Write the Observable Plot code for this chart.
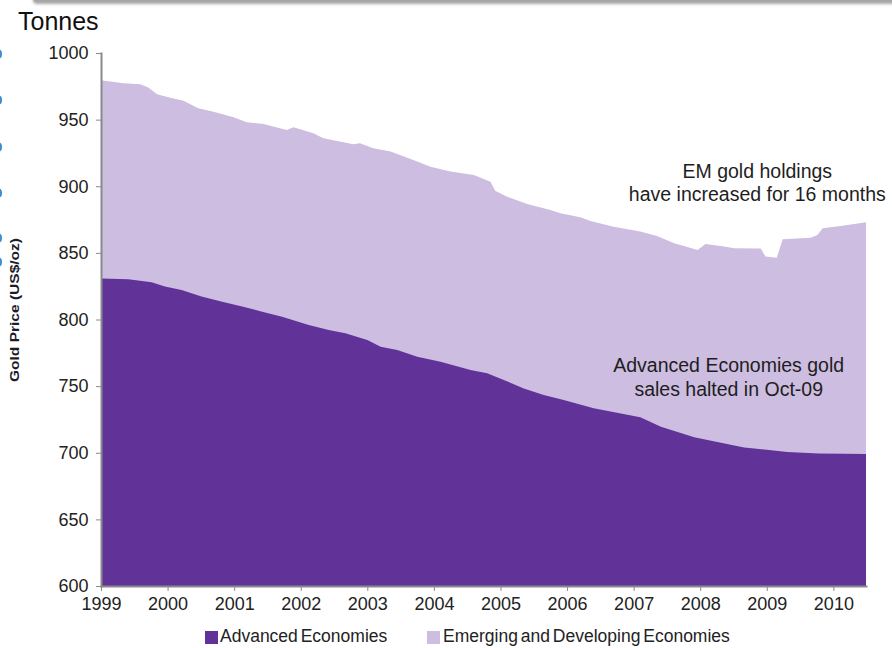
<!DOCTYPE html>
<html>
<head>
<meta charset="utf-8">
<script src="https://cdn.jsdelivr.net/npm/d3@7"></script>
<script src="https://cdn.jsdelivr.net/npm/@observablehq/plot@0.6"></script>
<style>
  html, body { margin: 0; padding: 0; background: #fff; }
  #wrap { position: relative; width: 892px; height: 648px; overflow: hidden; font-family: "Liberation Sans", Arial, sans-serif; }
  #chart { position: absolute; left: 0; top: 0; }
  .topbar { position: absolute; left: 33px; top: -6px; width: 880px; height: 8px; background: #a6a6a6; border-radius: 4px; box-shadow: 0 2px 3px rgba(0,0,0,0.35); }
  .unit { position: absolute; left: 18px; top: 9px; font-size: 25px; line-height: 1; color: #111; }
  .legend { position: absolute; top: 628px; font-size: 17.5px; line-height: 1; color: #222; word-spacing: -2px; white-space: nowrap; }
  .swatch { position: absolute; top: 631px; width: 13px; height: 13px; }
  #deco { position: absolute; left: 0; top: 0; }
</style>
</head>
<body>
<div id="wrap">
  <div id="chart"></div>
  <svg id="deco" width="892" height="648"></svg>
  <div class="topbar"></div>
  <div class="unit">Tonnes</div>
  <div class="swatch" style="left:205px;background:#613399"></div>
  <div class="legend" style="left:220px">Advanced Economies</div>
  <div class="swatch" style="left:427px;background:#cdbde0"></div>
  <div class="legend" style="left:443px">Emerging and Developing Economies</div>
</div>
<script>
// Central bank gold holdings (tonnes), read at decimal-year positions.
const totalYears = [1999.00, 1999.34, 1999.59, 1999.71, 1999.84, 2000.04, 2000.24, 2000.46, 2000.69, 2000.99,
  2001.19, 2001.44, 2001.79, 2001.89, 2002.19, 2002.34, 2002.79, 2002.89, 2003.09, 2003.35,
  2003.75, 2003.95, 2004.25, 2004.60, 2004.85, 2004.92, 2005.10, 2005.40, 2005.75, 2005.90,
  2006.20, 2006.35, 2006.70, 2007.10, 2007.35, 2007.61, 2007.96, 2008.08, 2008.36, 2008.51,
  2008.91, 2008.98, 2009.15, 2009.24, 2009.66, 2009.76, 2009.84, 2010.11, 2010.49];
const totalTonnes = [979.5, 977.3, 976.5, 974.2, 969.0, 966.5, 964.2, 958.5, 956.0, 951.7,
  948.0, 946.7, 942.2, 944.2, 939.7, 936.0, 931.5, 932.2, 928.5, 926.0,
  918.5, 914.7, 911.0, 908.4, 903.4, 896.7, 892.2, 886.7, 882.2, 879.7,
  876.7, 874.0, 869.7, 866.0, 862.7, 857.2, 852.2, 856.7, 854.7, 853.5,
  853.2, 847.2, 846.4, 860.2, 861.4, 863.4, 868.4, 870.1, 872.9];

const aeYears = [1999.00, 1999.41, 1999.76, 1999.96, 2000.21, 2000.51, 2000.82, 2001.12, 2001.42, 2001.72,
  2002.12, 2002.42, 2002.67, 2003.00, 2003.20, 2003.45, 2003.75, 2004.10, 2004.55, 2004.80,
  2005.05, 2005.35, 2005.65, 2005.95, 2006.40, 2007.10, 2007.41, 2007.91, 2008.66, 2009.31,
  2009.78, 2010.49];
const aeTonnes = [830.8, 830.2, 828.0, 824.7, 822.2, 817.2, 813.4, 809.7, 805.9, 802.1,
  795.9, 792.1, 789.6, 784.6, 779.6, 777.1, 772.1, 768.3, 762.1, 759.6,
  754.6, 748.3, 743.3, 739.6, 733.4, 726.6, 719.6, 711.6, 704.0, 700.5,
  699.5, 699.0];

const yTicks = [600, 650, 700, 750, 800, 850, 900, 950, 1000];
const xTicks = [1999, 2000, 2001, 2002, 2003, 2004, 2005, 2006, 2007, 2008, 2009, 2010];

const noteYears = [2008.85, 2008.42];
const noteTonnes = [903.7, 757.5];
const noteTexts = ["EM gold holdings\nhave increased for 16 months", "Advanced Economies gold\nsales halted in Oct-09"];

const darkPurple = "#613399";
const lightPurple = "#cdbde0";

const total = totalYears.map((year, i) => ({year, tonnes: totalTonnes[i]}));
const advanced = aeYears.map((year, i) => ({year, tonnes: aeTonnes[i]}));
const notes = noteYears.map((year, i) => ({year, tonnes: noteTonnes[i], text: noteTexts[i]}));

const chart = Plot.plot({
  width: 892,
  height: 648,
  marginLeft: 101,
  marginRight: 26,
  marginTop: 53,
  marginBottom: 62,
  style: {fontFamily: "'Liberation Sans', Arial, sans-serif", fontSize: "18px", color: "#222", background: "transparent"},
  x: {domain: d3.extent(totalYears)},
  y: {domain: d3.extent(yTicks)},
  marks: [
    Plot.areaY(total, {x: "year", y: "tonnes", fill: lightPurple, clip: true}),
    Plot.areaY(advanced, {x: "year", y: "tonnes", fill: darkPurple, clip: true}),
    Plot.axisY({ticks: yTicks, tickFormat: "d", tickSize: 5, tickPadding: 8, stroke: "#8a8a8a", fill: "#222", label: null}),
    Plot.axisX({ticks: xTicks, tickFormat: "d", tickSize: 5, tickPadding: 6, stroke: "#8a8a8a", fill: "#222", label: null}),
    Plot.frame({anchor: "left", stroke: "#8a8a8a", strokeWidth: 2}),
    Plot.frame({anchor: "bottom", stroke: "#8a8a8a", strokeWidth: 2}),
    Plot.text(notes, {x: "year", y: "tonnes", text: "text", fontSize: 19.5, lineHeight: 1.2, fill: "#1e1e1e", textAnchor: "middle"})
  ]
});
document.getElementById("chart").appendChild(chart);

// Left-edge remnants: a rotated axis caption and a column of blue bullets.
const deco = d3.select("#deco");
deco.append("text")
  .attr("transform", "translate(19,310) rotate(-90)")
  .attr("text-anchor", "middle")
  .attr("font-family", "'Liberation Sans', Arial, sans-serif")
  .attr("font-weight", "bold")
  .attr("font-size", 12.5)
  .attr("textLength", 144)
  .attr("lengthAdjust", "spacingAndGlyphs")
  .attr("fill", "#1b1b2b")
  .text("Gold Price (US$/oz)");
deco.selectAll("ellipse").data([54, 100, 147, 193, 238, 262]).join("ellipse")
  .attr("cx", -1).attr("cy", d => d).attr("rx", 3).attr("ry", 4.5)
  .attr("fill", "#3a8fd8");
</script>
</body>
</html>
